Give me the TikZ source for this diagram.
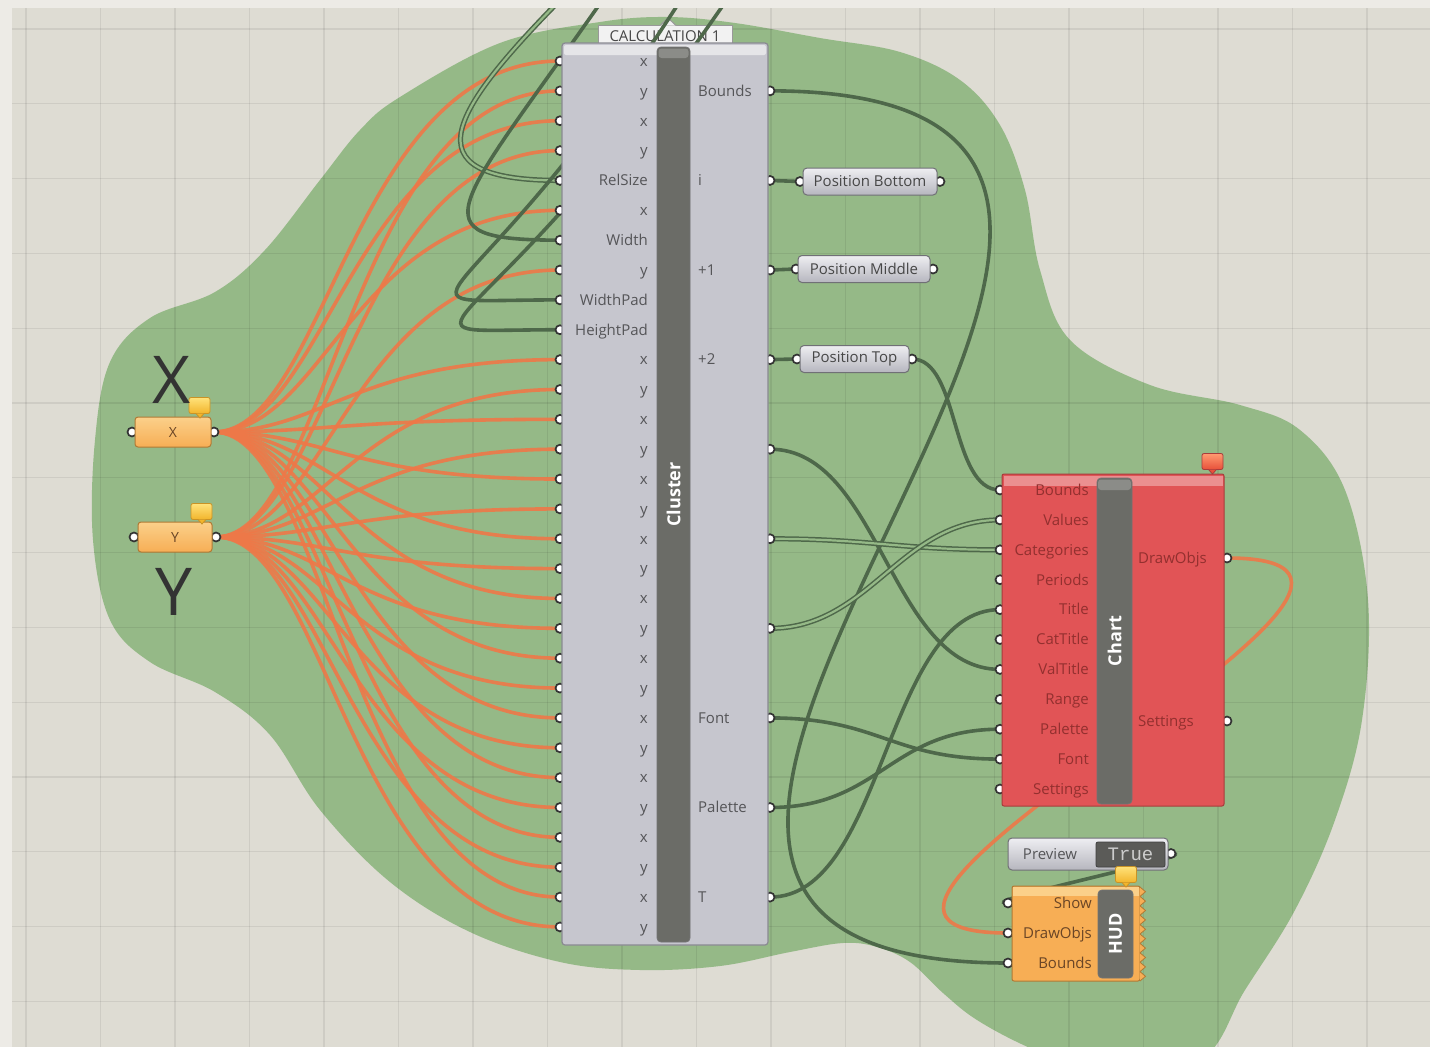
\documentclass[tikz,border=0pt]{standalone}
\usepackage{fontspec}
\setmainfont{Open Sans}
\newfontfamily\monof{Liberation Mono}
\newcommand\gsz{\fontsize{15}{18}\selectfont}
\newcommand\gbig{\fontsize{66}{72}\selectfont}
\newcommand\gbar{\fontsize{18}{20}\selectfont\bfseries}
\pgfdeclarelayer{back}
\pgfdeclarelayer{wires}
\pgfdeclarelayer{front}
\pgfsetlayers{back,wires,main,front}
\definecolor{bgc}{HTML}{DEDCD3}
\definecolor{framec}{HTML}{EDEBE6}
\definecolor{blobc}{HTML}{95B987}
\definecolor{wirec}{HTML}{4E684A}
\definecolor{owirec}{HTML}{EE7848}
\definecolor{clbody}{HTML}{C6C6CE}
\definecolor{clborder}{HTML}{8A8A92}
\definecolor{barc}{HTML}{6B6C67}
\definecolor{lblc}{HTML}{555558}
\definecolor{portc}{HTML}{333333}
\definecolor{chred}{HTML}{E15456}
\definecolor{chborder}{HTML}{A83C3C}
\definecolor{chlbl}{HTML}{93302F}
\definecolor{hudor}{HTML}{F7AE55}
\definecolor{hudtop}{HTML}{FBD08A}
\definecolor{hudborder}{HTML}{B07A35}
\definecolor{hudlbl}{HTML}{6A4526}
\definecolor{paneltop}{HTML}{EEEEF2}
\definecolor{panelbot}{HTML}{B6B6BE}
\definecolor{panelborder}{HTML}{707076}
\definecolor{tagtop}{HTML}{FFE27A}
\definecolor{tagbot}{HTML}{F2B52C}
\definecolor{tagborder}{HTML}{C99326}
\definecolor{rtagtop}{HTML}{FF9A70}
\definecolor{rtagbot}{HTML}{E8503A}
\definecolor{bigc}{HTML}{333333}
\definecolor{togc}{HTML}{5B5B58}
\tikzset{
  port/.style={circle, draw=portc, fill=white, line width=1.7pt, inner sep=0pt, minimum size=9pt},
  lblR/.style={anchor=base east, inner sep=0pt, text=lblc, font=\gsz},
  lblL/.style={anchor=base west, inner sep=0pt, text=lblc, font=\gsz},
  dwire/.style={draw=wirec, line width=3.6pt},
  lwire/.style={draw=wirec, line width=1.5pt, double=blobc, double distance=2.2pt},
  owire/.style={draw=owirec, line width=3.6pt, opacity=0.9},
  gridl/.style={draw=black, opacity=0.07, line width=1.2pt},
  panel/.style={draw=panelborder, line width=1pt, rounded corners=4pt, top color=paneltop, bottom color=panelbot, text=black!72, font=\gsz, inner sep=0pt, minimum height=27pt},
  barst/.style={fill=barc, draw=black!55, line width=0.8pt, rounded corners=4pt, inner sep=0pt},
  bartxt/.style={rotate=90, text=white, font=\gbar, inner sep=0pt},
  tagst/.style={draw=tagborder, line width=0.8pt, rounded corners=2pt, top color=tagtop, bottom color=tagbot, inner sep=0pt, minimum width=21pt, minimum height=16pt},
  param/.style={draw=hudborder, line width=1pt, rounded corners=3pt, top color=hudtop, bottom color=hudor, text=hudlbl, font=\fontsize{14}{16}\selectfont, inner sep=0pt, minimum height=30pt},
}
\begin{document}
\begin{tikzpicture}[x=1pt,y=-1pt]
\useasboundingbox (0,0) rectangle (1430,1047);
\begin{pgfonlayer}{back}
\fill[bgc] (0,0) rectangle (1430,1047);
\fill[blobc] plot[smooth cycle, tension=0.6] coordinates {(400,97) (500,43) (600,22) (667,17) (735,23) (820,38) (900,52) (960,80) (1000,125) (1025,190) (1040,270) (1070,340) (1150,385) (1240,405) (1300,430) (1345,490) (1368,600) (1362,720) (1335,820) (1295,910) (1245,990) (1200,1060) (1100,1075) (1030,1048) (977,1020) (943,993) (910,962) (877,947) (843,943) (790,952) (720,966) (640,970) (560,962) (470,932) (390,882) (320,810) (270,735) (215,692) (150,662) (110,620) (93,540) (95,440) (110,362) (150,318) (215,292) (265,250) (320,180) (360,130)};
\foreach \gx in {26,100.5,175,249.5,324,398.5,473,547.5,622,696.5,771,845.5,920,994.5,1069,1143.5,1218,1292.5,1367}
  \draw[gridl] (\gx,0) -- (\gx,1047);
\foreach \gy in {29,103.8,178.6,253.4,328.2,403,477.8,552.6,627.4,702.2,777,851.8,926.6,1001.4}
  \draw[gridl] (0,\gy) -- (1430,\gy);
\node[draw=black!40, line width=1pt, fill=white!95!black, minimum width=134pt, minimum height=22pt, inner sep=0pt, text=black!72, font=\gsz] (calc) at (665,36) {CALCULATION 1};
\filldraw[fill=white!95!black, draw=black!40, line width=1pt] (660,25.5) -- (668,18) -- (676,25.5);
\end{pgfonlayer}

% ---------- X / Y parameters
\node[port] (xin) at (132,432) {};
\node[port] (xout) at (214,432) {};
\node[port] (yin) at (134,537) {};
\node[port] (yout) at (216,537) {};
\node[param, minimum width=76pt] (xp) at (173,432) {X};
\node[param, minimum width=74pt] (yp) at (175,537) {Y};
\node[tagst] (xtag) at (199.5,405.5) {};
\filldraw[fill=tagbot, draw=tagborder, line width=0.8pt] (196,413.5) -- (200,418) -- (204,413.5);
\node[tagst] (ytag) at (201.5,511.5) {};
\filldraw[fill=tagbot, draw=tagborder, line width=0.8pt] (198,519.5) -- (202,524) -- (206,519.5);
\node[text=bigc, font=\gbig, inner sep=0pt] (bigx) at (172,380) {X};
\node[text=bigc, font=\gbig, inner sep=0pt] (bigy) at (174,592) {Y};

% ---------- Cluster
\foreach \k in {1,...,30} {
  \pgfmathsetmacro\yy{61+(\k-1)*29.86}
  \node[port] (ci\k) at (560,\yy) {};
}
\foreach \k in {2,5,8,11,14,17,20,23,26,29} {
  \pgfmathsetmacro\yy{61+(\k-1)*29.86}
  \node[port] (co\k) at (770,\yy) {};
}
\node[draw=clborder, line width=1.2pt, fill=clbody, rounded corners=3pt, minimum width=206pt, minimum height=902pt, inner sep=0pt] (cluster) at (665,494) {};
\fill[white, opacity=0.55, rounded corners=2pt] (564,45) rectangle (766,55);
\node[barst, minimum width=33pt, minimum height=895pt] (clbar) at (673.5,494.5) {};
\fill[white, opacity=0.22, rounded corners=3pt] (658.5,48.5) rectangle (688.5,58);
\node[bartxt] (cltxt) at (clbar) {Cluster};
\foreach \t [count=\k] in {x,y,x,y,RelSize,x,Width,y,WidthPad,HeightPad,x,y,x,y,x,y,x,y,x,y,x,y,x,y,x,y,x,y,x,y} {
  \pgfmathsetmacro\yy{61+(\k-1)*29.86+5.3}
  \node[lblR] (cl\k) at (648,\yy) {\t};
}
\foreach \k/\t in {2/Bounds,5/i,8/+1,11/+2,23/Font,26/Palette,29/T} {
  \pgfmathsetmacro\yy{61+(\k-1)*29.86+5.3}
  \node[lblL] (col\k) at (698,\yy) {\t};
}

% ---------- Position panels
\node[port] (pbi) at (800,181.5) {};
\node[port] (pbo) at (940,181.5) {};
\node[port] (pmi) at (796,269) {};
\node[port] (pmo) at (933,269) {};
\node[port] (pti) at (797,359) {};
\node[port] (pto) at (912,359) {};
\node[panel, minimum width=134pt] (pb) at (870,181.5) {Position Bottom};
\node[panel, minimum width=132pt] (pm) at (864,269) {Position Middle};
\node[panel, minimum width=109pt] (ptp) at (854.5,359) {Position Top};

% ---------- Chart
\foreach \j in {1,...,11} {
  \pgfmathsetmacro\yy{490+(\j-1)*29.9}
  \node[port] (chi\j) at (1000,\yy) {};
}
\node[port] (cho1) at (1227,558) {};
\node[port] (cho2) at (1227,721) {};
\node[draw=chborder, line width=1pt, fill=chred, rounded corners=2pt, minimum width=222pt, minimum height=332pt, inner sep=0pt] (chart) at (1113,640) {};
\fill[white, opacity=0.35] (1003.5,475.5) rectangle (1222.5,486);
\node[barst, minimum width=35pt, minimum height=326pt] (chbar) at (1114.5,641) {};
\fill[white, opacity=0.22, rounded corners=3pt] (1098,479.5) rectangle (1131,490);
\node[bartxt] (chtxt) at (chbar) {Chart};
\foreach \j/\t in {1/Bounds,2/Values,3/Categories,4/Periods,5/Title,6/CatTitle,7/ValTitle,8/Range,9/Palette,10/Font,11/Settings} {
  \pgfmathsetmacro\yy{490+(\j-1)*29.9+5.3}
  \node[lblR, text=chlbl] (chl\j) at (1089,\yy) {\t};
}
\node[lblL, text=chlbl] (chlo1) at (1138,563.3) {DrawObjs};
\node[lblL, text=chlbl] (chlo2) at (1138,726.3) {Settings};
\node[tagst, top color=rtagtop, bottom color=rtagbot, draw=chborder] (chtag) at (1212.5,461.5) {};
\filldraw[fill=rtagbot, draw=chborder, line width=0.8pt] (1208.5,469.5) -- (1212.5,474) -- (1216.5,469.5);

% ---------- Preview toggle
\node[port] (po) at (1171,853.5) {};
\node[draw=panelborder, line width=1pt, rounded corners=4pt, top color=paneltop, bottom color=panelbot, minimum width=160pt, minimum height=32pt, inner sep=0pt] (prev) at (1088,854) {};
\node[anchor=base, inner sep=0pt, text=lblc, font=\gsz] (prevtxt) at (1050,859) {Preview};
\node[fill=togc, draw=black!75, line width=0.8pt, rounded corners=2pt, minimum width=69pt, minimum height=25pt, inner sep=0pt, text=white!80!black, font=\monof\fontsize{19}{22}\selectfont] (tog) at (1130.5,854.5) {True};

% ---------- HUD
\node[port] (hi1) at (1008,903) {};
\node[port] (hi2) at (1008,933) {};
\node[port] (hi3) at (1008,963) {};
\node[draw=hudborder, line width=1pt, fill=hudor, rounded corners=2pt, minimum width=128pt, minimum height=95pt, inner sep=0pt] (hud) at (1076,933.5) {};
\fill[hudtop] (1013,887) rectangle (1139,896);
\foreach \i in {0,...,9}
  \filldraw[fill=hudor, draw=hudborder, line width=0.8pt] (1140,{887+\i*9.4}) -- (1145.5,{891.7+\i*9.4}) -- (1140,{896.4+\i*9.4});
\node[barst, minimum width=35pt, minimum height=88pt] (hudbar) at (1115.5,934) {};
\node[bartxt] (hudtxt) at (hudbar) {HUD};
\node[lblR, text=hudlbl] (hl1) at (1092,908.3) {Show};
\node[lblR, text=hudlbl] (hl2) at (1092,938.3) {DrawObjs};
\node[lblR, text=hudlbl] (hl3) at (1092,968.3) {Bounds};
\node[tagst] (hudtag) at (1126,874.5) {};
\filldraw[fill=tagbot, draw=tagborder, line width=0.8pt] (1122,882.5) -- (1126,887) -- (1130,882.5);

% ---------- sources above the picture
\coordinate (srcR) at (575,-15);
\coordinate (srcW) at (606,-5);
\coordinate (srcWP) at (682,-2);
\coordinate (srcHP) at (728,-2);

\begin{pgfonlayer}{wires}
\foreach \k in {1,3,6,11,13,15,17,19,21,23,25,27,29}
  \draw[owire] (xout.center) .. controls +(112,0) and +(-208,0) .. (ci\k.center);
\foreach \k in {2,4,8,12,14,16,18,20,22,24,26,28,30}
  \draw[owire] (yout.center) .. controls +(112,0) and +(-208,0) .. (ci\k.center);
\draw[owire] (cho1.center) .. controls +(290,0) and +(-290,0) .. (hi2.center);
% incoming
\draw[lwire] (srcR) .. controls +(-125,125) and +(-157,0) .. (ci5.center);
\draw[dwire] (srcW) .. controls +(-150,215) and +(-150,0) .. (ci7.center);
\draw[dwire] (srcWP) .. controls +(-212,332) and +(-197,0) .. (ci9.center);
\draw[dwire] (srcHP) .. controls +(-248,362) and +(-197,0) .. (ci10.center);
% outputs
\draw[dwire] (co2.center) .. controls +(650,0) and +(-650,0) .. (hi3.center);
\draw[dwire] (co5.center) -- (pbi.center);
\draw[dwire] (co8.center) -- (pmi.center);
\draw[dwire] (co11.center) -- (pti.center);
\draw[dwire] (pto.center) .. controls +(48,0) and +(-50,0) .. (chi1.center);
\draw[dwire] (co14.center) .. controls +(110,0) and +(-110,0) .. (chi7.center);
\draw[lwire] (co17.center) .. controls +(100,0) and +(-100,0) .. (chi3.center);
\draw[lwire] (co20.center) .. controls +(100,0) and +(-100,0) .. (chi2.center);
\draw[dwire] (co23.center) .. controls +(110,0) and +(-110,0) .. (chi10.center);
\draw[dwire] (co26.center) .. controls +(110,0) and +(-110,0) .. (chi9.center);
\draw[dwire] (co29.center) .. controls +(115,0) and +(-115,0) .. (chi5.center);
\draw[dwire] (po.center) .. controls +(40,0) and +(-40,0) .. (hi1.center);
\end{pgfonlayer}

\begin{pgfonlayer}{front}
\fill[framec] (0,0) rectangle (1430,8);
\fill[framec] (0,0) rectangle (12,1047);
\end{pgfonlayer}
\end{tikzpicture}
\end{document}
